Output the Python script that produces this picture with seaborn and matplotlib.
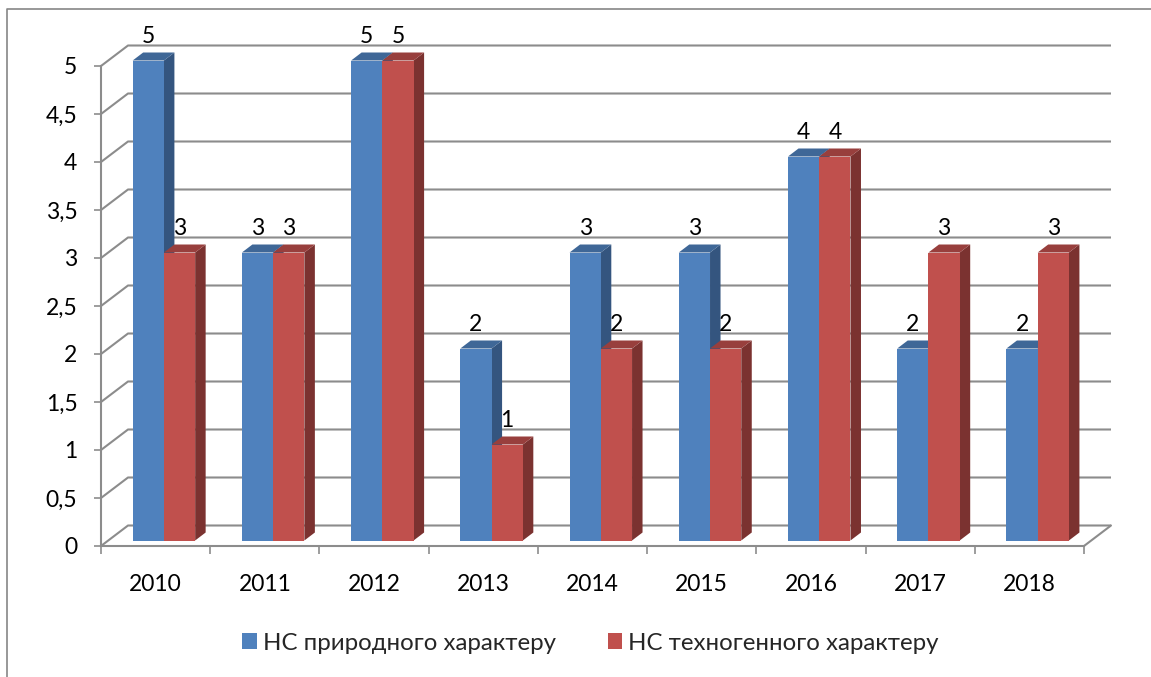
import numpy as np
import pandas as pd
import matplotlib
matplotlib.use("Agg")
import matplotlib.pyplot as plt
from matplotlib.lines import Line2D
from matplotlib.patches import Polygon
import seaborn as sns

years = ["2010", "2011", "2012", "2013", "2014", "2015", "2016", "2017", "2018"]
natural = [5, 3, 5, 2, 3, 3, 4, 2, 2]
technogenic = [3, 3, 5, 1, 2, 2, 4, 3, 3]
series_names = ["НС природного характеру", "НС техногенного характеру"]
y_ticks = [0, 0.5, 1, 1.5, 2, 2.5, 3, 3.5, 4, 4.5, 5]
y_tick_labels = ["0", "0,5", "1", "1,5", "2", "2,5", "3", "3,5", "4", "4,5", "5"]

sns.set_style("white")
plt.rcParams["font.family"] = ["Lato", "Open Sans", "DejaVu Sans"]

W, H = 1151, 677
LEFT, RIGHT, TOP, BOTTOM = 101, 1084, 66, 546
GRID = "#8c8c8c"
FS = 16.5
LEG_FS = 17.3
px_x = (RIGHT - LEFT) / 9          # pixels per category
px_y = (BOTTOM - TOP) / 5          # pixels per unit

df = pd.DataFrame({
    "year": years * 2,
    "value": natural + technogenic,
    "series": [series_names[0]] * 9 + [series_names[1]] * 9,
})

fig = plt.figure(figsize=(W / 100, H / 100), dpi=100, facecolor="white")
ax = fig.add_axes([LEFT / W, 1 - BOTTOM / H, (RIGHT - LEFT) / W, (BOTTOM - TOP) / H])
ax.patch.set_alpha(0)

sns.barplot(data=df, x="year", y="value", hue="series", hue_order=series_names,
            palette=["#4F81BD", "#C0504D"], saturation=1, width=0.572, gap=0,
            errorbar=None, ax=ax, linewidth=0)

ax.set_xlim(-0.5, 8.5)
ax.set_ylim(0, 5)
ax.set_xlabel("")
ax.set_ylabel("")

# back wall, in data units
wall_dx, wall_dy = 27 / px_x, 20.5 / px_y
for v in y_ticks:
    ax.plot([-0.5, -0.5 + wall_dx, 8.5 + wall_dx], [v, v + wall_dy, v + wall_dy],
            color=GRID, lw=1.5, clip_on=False, zorder=1, solid_capstyle="butt")
ax.plot([8.5, 8.5 + wall_dx], [0, wall_dy], color=GRID, lw=1.5, clip_on=False, zorder=1)

# bar depth and shift off the front plane
shift_x, shift_y = 8.3 / px_x, 5.5 / px_y
depth_x, depth_y = 10.5 / px_x, 8 / px_y
top_cols = ["#3F6797", "#983F3D"]
side_cols = ["#34557F", "#7B3230"]
for s, cont in enumerate(ax.containers):
    for i, bar in enumerate(cont):
        bar.set_x(bar.get_x() + shift_x)
        bar.set_y(shift_y)
        x0, x1 = bar.get_x(), bar.get_x() + bar.get_width()
        y0, y1 = shift_y, shift_y + bar.get_height()
        z = 3 + i * 3 + s * 1.5
        bar.set_zorder(z + 0.2)
        bar.set_clip_on(False)
        ax.add_patch(Polygon([(x1, y0), (x1 + depth_x, y0 + depth_y),
                              (x1 + depth_x, y1 + depth_y), (x1, y1)],
                             fc=side_cols[s], lw=0, zorder=z, clip_on=False))
        ax.add_patch(Polygon([(x0, y1), (x0 + depth_x, y1 + depth_y),
                              (x1 + depth_x, y1 + depth_y), (x1, y1)],
                             fc=top_cols[s], lw=0, zorder=z + 0.1, clip_on=False))
    labels = ax.bar_label(cont, fmt="%d", padding=10, fontsize=FS, color="black")
    for t in labels:
        t.set_zorder(100)
        t.set_clip_on(False)
        t.set_annotation_clip(False)

# axes
ax.set_yticks(y_ticks, y_tick_labels)
ax.set_xticks(np.arange(9), years)
ax.set_xticks(np.arange(-0.5, 9), minor=True)
ax.tick_params(axis="x", which="major", length=0, pad=20, labelsize=FS, colors="black")
ax.tick_params(axis="x", which="minor", length=5.5, width=1.2, color=GRID, bottom=True)
ax.tick_params(axis="y", length=5, width=1.2, color=GRID, left=True, pad=12, labelsize=FS,
               labelcolor="black")
sns.despine(ax=ax)
for side in ("left", "bottom"):
    ax.spines[side].set_color(GRID)
    ax.spines[side].set_linewidth(1.5)

# legend
sns.move_legend(ax, "center left", bbox_to_anchor=((242 - LEFT) / (RIGHT - LEFT), (BOTTOM - 643) / (BOTTOM - TOP)),
                ncols=2, frameon=False, title=None, fontsize=LEG_FS, handlelength=0.62, handleheight=0.62,
                handletextpad=0.25, columnspacing=2.15, borderpad=0, borderaxespad=0)

# outer frame: only top and left are in the picture
fig.add_artist(Line2D([6.5 / W, 6.5 / W, 1], [0, 1 - 8.5 / H, 1 - 8.5 / H],
                      color="#868686", lw=1.2, transform=fig.transFigure))

fig.savefig("out.png", dpi=100, facecolor="white")
